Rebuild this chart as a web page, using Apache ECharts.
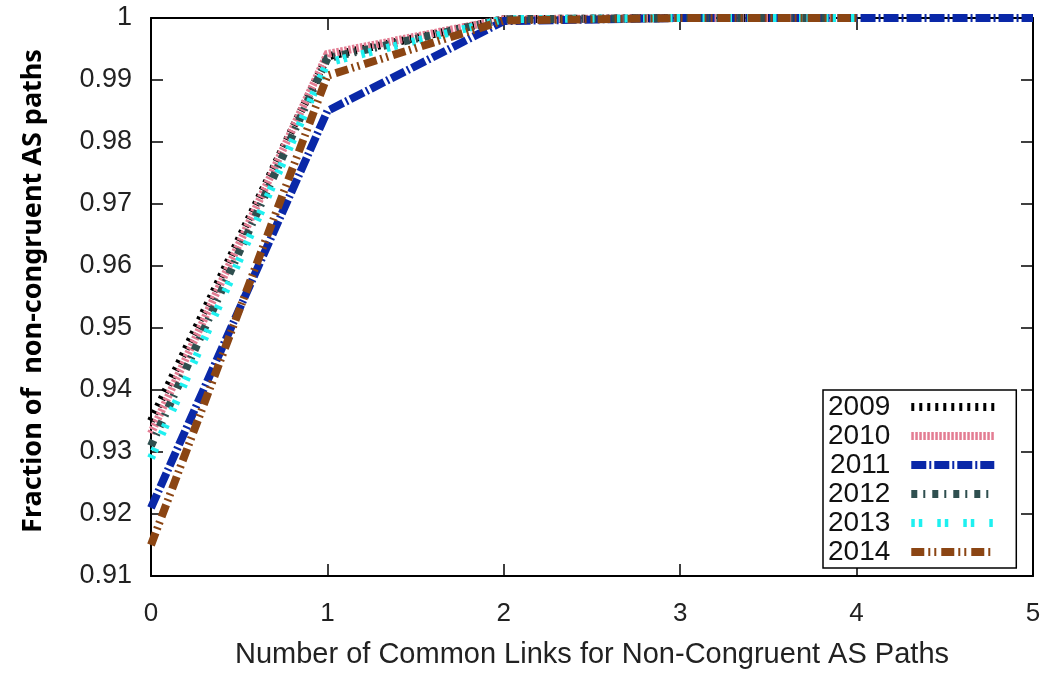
<!DOCTYPE html>
<html>
<head>
<meta charset="utf-8">
<title>Non-congruent AS paths</title>
<script src="https://cdn.jsdelivr.net/npm/echarts@6/dist/echarts.min.js"></script>
<style>
  html, body { margin: 0; padding: 0; background: #fff; }
  #chart { width: 1048px; height: 674px; }
</style>
</head>
<body>
<div id="chart"></div>
<script>
// ==================== data ====================
const years = ['2009', '2010', '2011', '2012', '2013', '2014']
const commonLinks = [0, 1, 2, 3, 4, 5]

const frac2009 = [0.935, 0.9938, 0.9998, 1, 1]
const frac2010 = [0.933, 0.9942, 0.9998, 1, 1]
const frac2011 = [0.921, 0.9850, 0.9995, 1, 1, 1]
const frac2012 = [0.931, 0.9935, 0.9998, 1, 1]
const frac2013 = [0.929, 0.9928, 0.9998, 1, 1]
const frac2014 = [0.915, 0.9907, 0.9996, 1, 1]

const yTicks = [0.91, 0.92, 0.93, 0.94, 0.95, 0.96, 0.97, 0.98, 0.99, 1]

// ==================== styles ====================
const colors = ['#000000', '#e37d93', '#0a28a8', '#2f4f4f', '#1ef0f0', '#8b4513']
const dashes = [
  [3, 5],
  [2.5, 1.5],
  [15, 3, 2, 3],
  [6, 6, 2, 7],
  [3.5, 4, 3.5, 15],
  [13, 4, 2, 4, 2, 5]
]
const allValues = [frac2009, frac2010, frac2011, frac2012, frac2013, frac2014]

const labelFont = 'Liberation Sans, Arial, sans-serif'

const series = years.map((name, i) => ({
  name,
  type: 'line',
  data: allValues[i].map((v, k) => [commonLinks[k], v]),
  showSymbol: false,
  symbol: 'none',
  clip: false,
  color: colors[i],
  lineStyle: { color: colors[i], width: 8, type: dashes[i], cap: 'butt', join: 'miter' },
  z: 2 + i
}))

// mirrored frame axes (gnuplot style box)
const frameAxis = {
  axisLine: { show: true, onZero: false, lineStyle: { color: '#000', width: 2 } },
  axisTick: { show: true, inside: true, length: 12, lineStyle: { color: '#000', width: 1.5 } },
  axisLabel: { show: false },
  splitLine: { show: false }
}

const chart = echarts.init(document.getElementById('chart'))

chart.setOption({
  animation: false,
  grid: { left: 151, right: 15, top: 18, bottom: 96 },
  xAxis: [
    {
      type: 'value', min: 0, max: 5, interval: 1,
      name: 'Number of Common Links for Non-Congruent AS Paths',
      nameLocation: 'middle',
      nameGap: 64,
      nameTextStyle: { fontFamily: labelFont, fontSize: 29, color: '#222' },
      axisLine: { onZero: false, lineStyle: { color: '#000', width: 2 } },
      axisTick: { inside: true, length: 12, lineStyle: { color: '#000', width: 1.5 } },
      axisLabel: { fontFamily: labelFont, fontSize: 26, color: '#222', margin: 25 },
      splitLine: { show: false }
    },
    Object.assign({ type: 'value', position: 'top', min: 0, max: 5, interval: 1 }, frameAxis)
  ],
  yAxis: [
    {
      type: 'value', min: 0.91, max: 1, interval: 0.01,
      name: 'Fraction of  non-congruent AS paths',
      nameLocation: 'middle',
      nameGap: 104,
      nameTextStyle: { fontFamily: 'Noto Sans, Open Sans, sans-serif', fontWeight: 'bold', fontSize: 27, color: '#000', padding: [0, 0, 0, 12] },
      axisLine: { onZero: false, lineStyle: { color: '#000', width: 2 } },
      axisTick: { inside: true, length: 12, lineStyle: { color: '#000', width: 1.5 } },
      axisLabel: {
        fontFamily: labelFont, fontSize: 27, color: '#222', margin: 19,
        formatter: (v) => {
          const t = yTicks.find(y => Math.abs(y - v) < 1e-6)
          if (t === undefined) return ''
          return t === 1 ? '1' : t.toFixed(2)
        }
      },
      splitLine: { show: false }
    },
    Object.assign({ type: 'value', position: 'right', min: 0.91, max: 1, interval: 0.01 }, frameAxis)
  ],
  legend: {
    orient: 'vertical',
    left: 823,
    top: 390,
    align: 'right',
    padding: [3, 18, 2, 5],
    itemGap: 1,
    itemWidth: 83,
    itemHeight: 10,
    borderColor: '#000',
    borderWidth: 1.5,
    backgroundColor: '#fff',
    z: 20,
    itemStyle: { opacity: 0, borderWidth: 0 },
    lineStyle: { width: 'inherit', type: 'inherit', cap: 'butt' },
    textStyle: { fontFamily: labelFont, fontSize: 28, color: '#111', padding: [0, 16, 0, 0] },
    data: years
  },
  series
})
</script>
</body>
</html>
